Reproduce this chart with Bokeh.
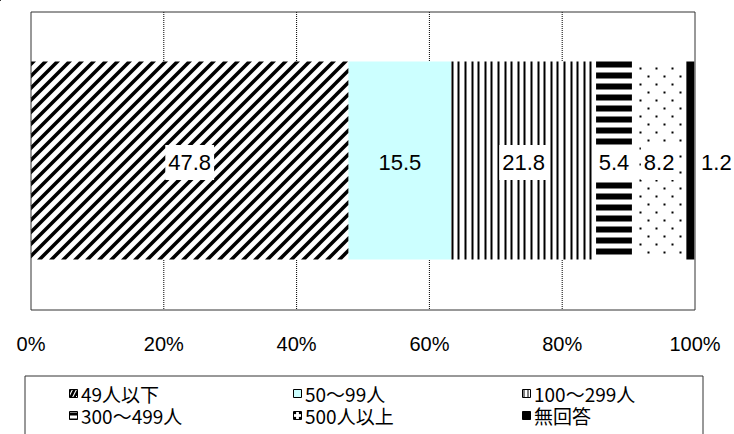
from bokeh.plotting import figure
from bokeh.models import ColumnDataSource, Range1d, Legend, LegendItem
from bokeh.core.properties import value
from bokeh.embed import file_html
from bokeh.resources import INLINE

# Share of respondents by company size (%)
categories = ["49人以下", "50～99人", "100～299人", "300～499人", "500人以上", "無回答"]
values = [47.8, 15.5, 21.8, 5.4, 8.2, 1.2]
tick_values = [0, 20, 40, 60, 80, 100]
tick_labels = [f"{t}%" for t in tick_values]

fills = ["white", "#CCFFFF", "white", "white", "white", "black"]

# ---- page geometry (pixels) -------------------------------------------------
W, H = 734, 434
X0, PPU = 30.5, 6.64            # page x of 0 %, pixels per percentage point
BOX_TOP, BOX_BOT = 11.5, 309.5  # plot box
BAR_TOP, BAR_BOT = 61, 259      # bar band
TICK_Y = 343                    # tick label centre line


def pct(px):
    """page x (pixels) -> percent"""
    return (px - X0) / PPU


def page_x(v):
    """percent -> page x (pixels)"""
    return X0 + v * PPU


p = figure(width=W, height=H, output_backend="svg", toolbar_location=None,
           x_range=Range1d(pct(0), pct(W)), y_range=Range1d(H, 0),
           x_axis_location=None, y_axis_location=None, min_border=0)
p.outline_line_color = None
p.xgrid.visible = False
p.ygrid.visible = False
p.background_fill_color = "white"
p.border_fill_color = "white"

lefts, rights = [], []
acc = 0.0
for v in values:
    lefts.append(acc)
    acc += v
    rights.append(acc)
centers = [(l + r) / 2 for l, r in zip(lefts, rights)]

# vertical grid lines
inner = tick_values[1:-1]
p.segment(x0=inner, x1=inner, y0=[BOX_TOP] * len(inner), y1=[BOX_BOT] * len(inner),
          line_color="black", line_width=1, line_dash="1 1")

# stacked bar segments
bar_src = ColumnDataSource(dict(left=lefts, right=rights, fill=fills,
                                y=[(BAR_TOP + BAR_BOT) / 2] * len(values)))
p.hbar(y="y", left="left", right="right", height=BAR_BOT - BAR_TOP, source=bar_src,
       fill_color="fill", line_color=None)


# ---- fill patterns drawn inside the segments --------------------------------
def clip(poly, a, b, c, keep_ge):
    """clip polygon by half-plane a*x + b*y >= c (or <= c)"""
    out = []
    n = len(poly)
    for i in range(n):
        P, Q = poly[i], poly[(i + 1) % n]
        fp = a * P[0] + b * P[1] - c
        fq = a * Q[0] + b * Q[1] - c
        inp = fp >= 0 if keep_ge else fp <= 0
        inq = fq >= 0 if keep_ge else fq <= 0
        if inp:
            out.append(P)
        if inp != inq:
            t = fp / (fp - fq)
            out.append((P[0] + t * (Q[0] - P[0]), P[1] + t * (Q[1] - P[1])))
    return out


# 49人以下: 45-degree stripes
xl, xr = page_x(lefts[0]), page_x(rights[0])
rect = [(xl, BAR_TOP), (xr, BAR_TOP), (xr, BAR_BOT), (xl, BAR_BOT)]
period, thick = 12, 5
dxs, dys = [], []
c = xl + BAR_TOP - period
while c < xr + BAR_BOT:
    poly = clip(rect, 1, 1, c, True)
    poly = clip(poly, 1, 1, c + thick, False)
    if len(poly) >= 3:
        dxs.append([pct(x) for x, _ in poly])
        dys.append([y for _, y in poly])
    c += period
p.patches(xs=dxs, ys=dys, fill_color="black", line_color=None)

# 100～299人: thin vertical lines
xl, xr = page_x(lefts[2]), page_x(rights[2])
vl, vr = [], []
x = xl
while x + 2 <= xr:
    vl.append(pct(round(x)))
    vr.append(pct(round(x) + 2))
    x += 6.6
p.quad(left=vl, right=vr, top=[BAR_TOP] * len(vl), bottom=[BAR_BOT] * len(vl),
       fill_color="black", line_color=None)

# 300～499人: thick horizontal bands
ht, hb = [], []
y = BAR_TOP
while y < BAR_BOT:
    ht.append(y)
    hb.append(min(y + 6, BAR_BOT))
    y += 11
p.quad(left=[lefts[3]] * len(ht), right=[rights[3]] * len(ht), top=ht, bottom=hb,
       fill_color="black", line_color=None)

# 500人以上: staggered dots
xl, xr = page_x(lefts[4]), page_x(rights[4])
dl, dr, dt, db = [], [], [], []
k = 0
y = BAR_TOP + 6
while y + 2 <= BAR_BOT:
    x = xl + 8 + 8 * (k % 2)
    while x + 2 <= xr:
        dl.append(pct(round(x)))
        dr.append(pct(round(x) + 2))
        dt.append(y)
        db.append(y + 2)
        x += 16
    y += 8
    k += 1
p.quad(left=dl, right=dr, top=dt, bottom=db, fill_color="black", line_color=None)

# plot box
p.quad(left=[tick_values[0]], right=[tick_values[-1]], top=[BOX_TOP], bottom=[BOX_BOT],
       fill_color=None, line_color="#333333", line_width=1)

# percentage scale
p.text(x=tick_values, y=[TICK_Y] * len(tick_values), text=tick_labels,
       text_align="center", text_baseline="middle", text_font=value("Liberation Sans"),
       text_font_size="20px", text_color="black")

# ---- value labels -----------------------------------------------------------
LAB_Y = (BAR_TOP + BAR_BOT) / 2 + 2
boxed = [0, 2, 3, 4]
p.text(x=[centers[i] for i in boxed], y=[LAB_Y] * len(boxed),
       text=[f"{values[i]:.1f}" for i in boxed], text_align="center",
       text_baseline="middle", text_font=value("Liberation Sans"),
       text_font_size="22px", text_color="black",
       background_fill_color="white", padding=(3, 10))
p.text(x=[centers[1]], y=[LAB_Y], text=[f"{values[1]:.1f}"], text_align="center",
       text_baseline="middle", text_font=value("Liberation Sans"),
       text_font_size="22px", text_color="black")
p.text(x=[rights[5]], y=[LAB_Y], text=[f"{values[5]:.1f}"], text_align="center",
       text_baseline="middle", text_font=value("Liberation Sans"),
       text_font_size="22px", text_color="black", x_offset=22)

# ---- legend -----------------------------------------------------------------
# frame of the legend, open at the bottom edge of the page
p.quad(left=[pct(24.5)], right=[pct(702.5)], top=[375.5], bottom=[H + 20],
       fill_color=None, line_color="#333333", line_width=1)

sw_hatch = ["/", " ", "|", "-", ".", " "]
sw_scale = [8, 8, 4, 6, 5, 8]
sw_weight = [2.5, 1, 1, 3, 1.5, 1]
col_x = [68, 292, 521]     # swatch left edges
row_y = [393, 415]         # row centres
ITEM_H = 27                # height of one legend entry (label line height)
for i, cat in enumerate(categories):
    # off-page glyph that only supplies the legend swatch style
    r = p.hbar(y=[-1000], left=[-1000], right=[-999], height=1,
               fill_color=fills[i], line_color="black", line_width=1,
               hatch_pattern=sw_hatch[i], hatch_color="black",
               hatch_scale=sw_scale[i], hatch_weight=sw_weight[i])
    loc = (col_x[i % 3], H - row_y[i // 3] - ITEM_H / 2)
    leg = Legend(items=[LegendItem(label=cat, renderers=[r])], location=loc,
                 glyph_width=10, glyph_height=10, label_standoff=3,
                 label_height=ITEM_H, spacing=0, padding=0, margin=0,
                 label_text_font="Noto Sans CJK JP", label_text_font_size="19px",
                 label_text_color="black", border_line_alpha=0,
                 background_fill_alpha=0)
    p.add_layout(leg, "center")

open("out.html", "w").write(file_html(p, INLINE))
